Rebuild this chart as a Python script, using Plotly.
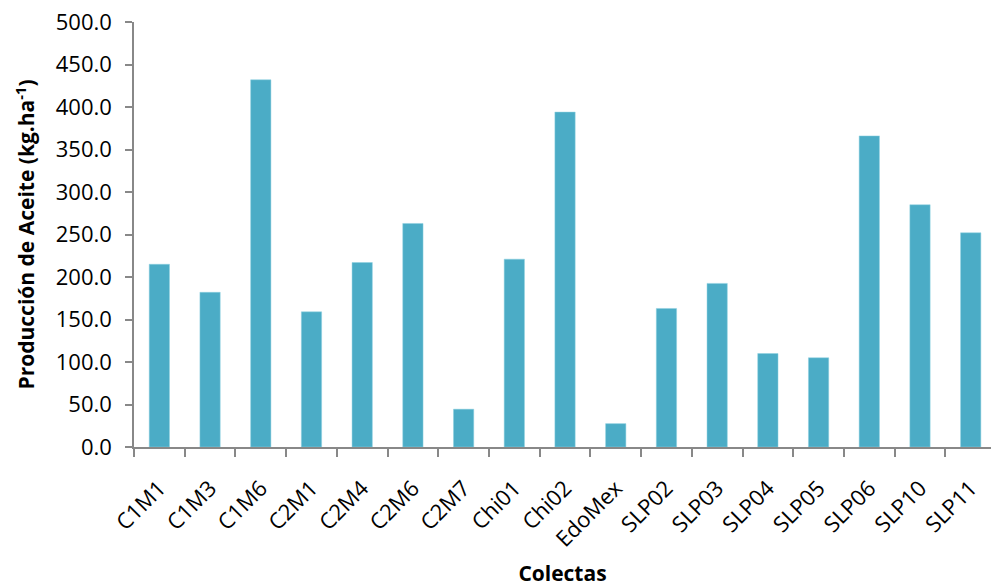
import plotly.graph_objects as go

categories = ["C1M1", "C1M3", "C1M6", "C2M1", "C2M4", "C2M6", "C2M7", "Chi01", "Chi02",
              "EdoMex", "SLP02", "SLP03", "SLP04", "SLP05", "SLP06", "SLP10", "SLP11"]
values = [215.0, 182.0, 432.0, 159.0, 217.0, 263.0, 44.5, 221.0, 394.0,
          27.5, 163.0, 192.5, 110.0, 105.0, 366.0, 285.0, 252.0]
y_ticks = [0, 50, 100, 150, 200, 250, 300, 350, 400, 450, 500]

FONT = "Open Sans"
fig = go.Figure(go.Bar(x=categories, y=values, marker=dict(color="#4BACC6",
                line=dict(color="#8FD0E0", width=0.5)), width=0.4))

fig.update_layout(
    width=991, height=587,
    margin=dict(l=134, r=0, t=22, b=140),
    plot_bgcolor="white", paper_bgcolor="white",
    showlegend=False,
    font=dict(family=FONT, size=20, color="black"),
)
fig.update_xaxes(
    type="category", range=[-0.5, 16.4],
    showline=True, linecolor="#888888", linewidth=1.5,
    ticks="outside", ticklen=8, tickcolor="#888888", tickwidth=1.5,
    tickson="boundaries", tickangle=-45, ticklabelstandoff=18,
    tickfont=dict(family=FONT, size=22, color="black"),
    showgrid=False, automargin=False,
    title=dict(text="<b>Colectas</b>", font=dict(family=FONT, size=21), standoff=17),
)
fig.update_yaxes(
    range=[0, 500], tickvals=y_ticks, tickformat=".1f",
    showline=True, linecolor="#888888", linewidth=1.5,
    ticks="outside", ticklen=7, tickcolor="#888888", tickwidth=1.5,
    ticklabelstandoff=9,
    tickfont=dict(family=FONT, size=22, color="black"),
    showgrid=False, zeroline=False, automargin=False,
)
fig.add_annotation(
    text="<b>Producción de Aceite (kg.ha<sup>-1</sup>)</b>",
    xref="paper", yref="paper", x=(25 - 134) / 857, y=0.5,
    textangle=-90, showarrow=False, xanchor="center", yanchor="middle",
    font=dict(family=FONT, size=21, color="black"),
)
fig.write_html("out.html", config={"displayModeBar": False},
               post_script="document.body.style.margin='0';")
